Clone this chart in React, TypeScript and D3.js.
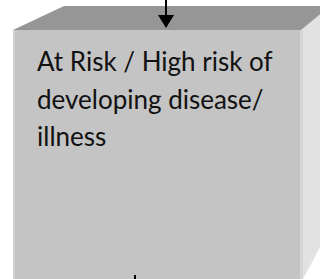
import React from "react";
import * as d3 from "d3";

const textLines = ["At Risk / High risk of", "developing disease/", "illness"];
const W = 320;
const H = 279;

type P = [number, number];
const topFace: P[] = [[13, 30], [64, 6], [330, 6], [301, 30]];
const frontFace: P[] = [[13, 30], [301, 30], [301, 290], [13, 290]];
const sideFace: P[] = [[301, 30], [330, 1], [330, 228], [301, 283]];
const arrowHead: P[] = [[158, 15], [174, 15], [166, 28]];

export default function App() {
  const poly = d3.line<P>().curve(d3.curveLinearClosed);
  const y = d3.scaleLinear().domain([0, textLines.length - 1]).range([71, 146]);
  return (
    <svg width={W} height={H} style={{ position: "absolute", left: 0, top: 0, background: "#fff" }}>
      <path d={poly(sideFace) || ""} fill="#e2e2e2" />
      <path d={poly(frontFace) || ""} fill="#c4c4c4" />
      <rect x={13} y={30} width={2} height={260} fill="#d2d2d2" />
      <rect x={300} y={30} width={3} height={260} fill="#d6d6d6" />
      <path d={poly(topFace) || ""} fill="#969696" />
      <rect x={165} y={0} width={2} height={16} fill="#000" />
      <path d={poly(arrowHead) || ""} fill="#000" />
      <rect x={134} y={275} width={2} height={5} fill="#000" />
      {textLines.map((t, i) => (
        <text key={i} x={37} y={y(i)} fontFamily="Lato, 'Open Sans', sans-serif" fontSize={26} fill="#111">
          {t}
        </text>
      ))}
    </svg>
  );
}
